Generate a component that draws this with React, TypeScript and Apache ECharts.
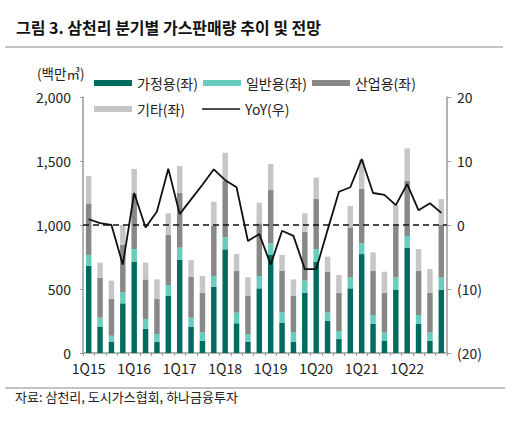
import React, { useEffect, useRef } from "react";
import * as echarts from "echarts";

const categories = [
  "1Q15", "2Q15", "3Q15", "4Q15",
  "1Q16", "2Q16", "3Q16", "4Q16",
  "1Q17", "2Q17", "3Q17", "4Q17",
  "1Q18", "2Q18", "3Q18", "4Q18",
  "1Q19", "2Q19", "3Q19", "4Q19",
  "1Q20", "2Q20", "3Q20", "4Q20",
  "1Q21", "2Q21", "3Q21", "4Q21",
  "1Q22", "2Q22", "3Q22", "4Q22",
];

const residential = [
  680, 203, 89, 388, 714, 190, 89, 448, 727, 206, 96, 518, 810, 232, 89, 505,
  766, 237, 89, 471, 714, 250, 109, 505, 773, 227, 94, 492, 823, 227, 94, 492,
];
const general = [
  86, 73, 46, 86, 98, 76, 59, 83, 96, 70, 63, 84, 94, 83, 59, 97,
  91, 81, 70, 94, 98, 68, 63, 84, 84, 70, 65, 99, 91, 70, 65, 97,
];
const industrial = [
  403, 313, 289, 370, 435, 309, 276, 391, 430, 320, 312, 390, 442, 328, 302, 411,
  416, 325, 289, 383, 394, 317, 299, 393, 427, 346, 312, 409, 430, 346, 312, 411,
];
const others = [
  214, 117, 141, 156, 191, 131, 151, 169, 208, 131, 131, 190, 219, 130, 141, 161,
  204, 123, 127, 143, 164, 118, 138, 166, 226, 143, 164, 156, 255, 169, 185, 203,
];
const yoy = [
  0.9, 0.3, 0, -6.2, 5.0, -0.4, 2.1, 8.8, 1.7, 4.0, 6.3, 8.7, 7.0, 5.9, -2.5, -1.4,
  -6.2, -0.9, -1.7, -6.9, -6.9, -0.8, 5.2, 5.9, 10.3, 5.0, 4.7, 3.1, 6.4, 2.3, 3.4, 1.9,
];

const seriesNames = ["가정용(좌)", "일반용(좌)", "산업용(좌)", "기타(좌)", "YoY(우)"];
const leftTicks = { min: 0, max: 2000, interval: 500 };
const rightTicks = { min: -20, max: 20, interval: 10 };

const FONT = "'Noto Sans CJK KR', 'Noto Sans', sans-serif";
const colors = ["#006B5F", "#66CDBF", "#888888", "#C6C6C6"];
const axisColor = "#9A9A9A";

export default function App() {
  const ref = useRef<HTMLDivElement>(null);

  useEffect(() => {
    if (!ref.current) return;
    const chart = echarts.init(ref.current, undefined, { renderer: "svg" });

    const barSeries = [residential, general, industrial, others].map((d, i) => ({
      name: seriesNames[i],
      type: "bar",
      stack: "total",
      yAxisIndex: 0,
      barWidth: "48%",
      itemStyle: { color: colors[i] },
      data: d,
    }));

    chart.setOption({
      animation: false,
      textStyle: { fontFamily: FONT },
      grid: { left: 83, right: 77, top: 97, bottom: 73 },
      legend: [
        {
          left: 94,
          top: 76,
          padding: 0,
          itemWidth: 38,
          itemHeight: 6,
          itemGap: 5,
          icon: "rect",
          textStyle: { fontSize: 14, color: "#222", fontFamily: FONT },
          data: seriesNames.slice(0, 3),
        },
        {
          left: 94,
          top: 102,
          padding: 0,
          itemWidth: 38,
          itemHeight: 6,
          itemGap: 17,
          icon: "rect",
          textStyle: { fontSize: 14, color: "#222", fontFamily: FONT },
          data: [
            seriesNames[3],
            { name: seriesNames[4], icon: "path://M0,0H38V1.6H0Z" },
          ],
        },
      ],
      xAxis: {
        type: "category",
        data: categories,
        boundaryGap: true,
        axisLine: { lineStyle: { color: axisColor, width: 1.5 } },
        axisTick: {
          show: true,
          interval: 0,
          length: 3,
          lineStyle: { color: axisColor, width: 1 },
        },
        axisLabel: {
          interval: 3,
          fontSize: 14,
          color: "#222",
          margin: 8,
          fontFamily: FONT,
        },
      },
      yAxis: [
        {
          type: "value",
          ...leftTicks,
          position: "left",
          axisLine: { show: true, lineStyle: { color: axisColor, width: 1.5 } },
          axisTick: { show: true, length: 3, lineStyle: { color: axisColor } },
          splitLine: { show: false },
          axisLabel: {
            fontSize: 14,
            color: "#222",
            margin: 12,
            fontFamily: FONT,
            formatter: (v: number) => v.toLocaleString("en-US"),
          },
        },
        {
          type: "value",
          ...rightTicks,
          position: "right",
          axisLine: { show: true, lineStyle: { color: axisColor, width: 1.5 } },
          axisTick: { show: true, length: 4, lineStyle: { color: axisColor } },
          splitLine: { show: false },
          axisLabel: {
            fontSize: 14,
            color: "#222",
            margin: 10,
            fontFamily: FONT,
            formatter: (v: number) => (v < 0 ? `(${-v})` : `${v}`),
          },
        },
      ],
      series: [
        ...barSeries,
        {
          name: seriesNames[4],
          type: "line",
          yAxisIndex: 1,
          data: yoy,
          showSymbol: false,
          symbol: "none",
          lineStyle: { color: "#111", width: 1.8 },
          itemStyle: { color: "#111" },
          z: 5,
          markLine: {
            silent: true,
            symbol: "none",
            label: { show: false },
            lineStyle: { color: "#111", type: [6, 4], width: 1.6 },
            data: [{ yAxis: 0 }],
          },
        },
      ],
      graphic: [
        {
          type: "text",
          left: 16,
          top: 19,
          style: {
            text: "그림 3. 삼천리 분기별 가스판매량 추이 및 전망",
            font: `bold 16px ${FONT}`,
            fill: "#111",
          },
        },
        {
          type: "line",
          shape: { x1: 5, y1: 47, x2: 503, y2: 47 },
          style: { stroke: "#8a8a8a", lineWidth: 1.2 },
        },
        {
          type: "text",
          left: 37,
          top: 66,
          style: {
            text: "(백만㎥)",
            font: `13.5px ${FONT}`,
            fill: "#222",
          },
        },
        {
          type: "line",
          shape: { x1: 5, y1: 388, x2: 505, y2: 388 },
          style: { stroke: "#8a8a8a", lineWidth: 1.2 },
        },
        {
          type: "text",
          left: 15,
          top: 390,
          style: {
            text: "자료: 삼천리, 도시가스협회, 하나금융투자",
            font: `13px ${FONT}`,
            fill: "#222",
          },
        },
      ],
    });

    return () => chart.dispose();
  }, []);

  return (
    <div
      ref={ref}
      style={{ position: "fixed", left: 0, top: 0, width: 524, height: 426, background: "#fff" }}
    />
  );
}
